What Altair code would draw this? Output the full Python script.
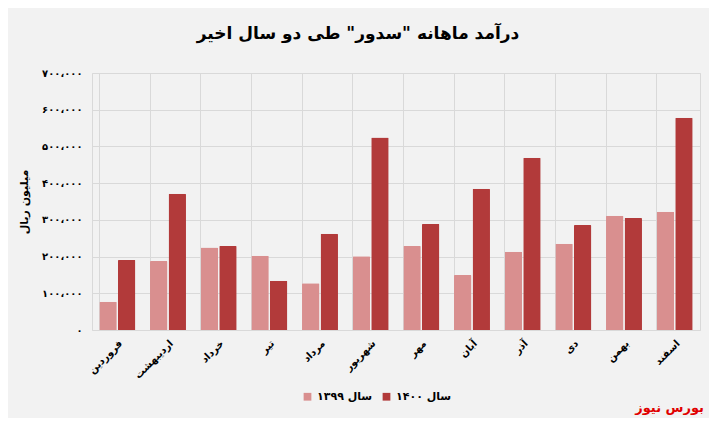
import altair as alt
import pandas as pd

months = ["فروردین", "اردیبهشت", "خرداد", "تیر", "مرداد", "شهریور",
          "مهر", "آبان", "آذر", "دی", "بهمن", "اسفند"]
series_names = ["سال ۱۳۹۹", "سال ۱۴۰۰"]
values_1399 = [77000, 188000, 225000, 202000, 127000, 201000,
               229000, 150000, 213000, 235000, 311000, 322000]
values_1400 = [191000, 371000, 229000, 134000, 262000, 524000,
               289000, 385000, 469000, 286000, 305000, 578000]
y_tick_values = [0, 100000, 200000, 300000, 400000, 500000, 600000, 700000]
y_tick_labels = ["۰", "۱۰۰،۰۰۰", "۲۰۰،۰۰۰", "۳۰۰،۰۰۰", "۴۰۰،۰۰۰",
                 "۵۰۰،۰۰۰", "۶۰۰،۰۰۰", "۷۰۰،۰۰۰"]
series_colors = ["#d98f8f", "#b23a3a"]
title_text = 'درآمد ماهانه "سدور" طی دو سال اخیر'
y_title = "میلیون ریال"
brand_text = "بورس نیوز"

rows = []
for i, m in enumerate(months):
    rows.append({"month": m, "series": series_names[0], "value": values_1399[i]})
    rows.append({"month": m, "series": series_names[1], "value": values_1400[i]})
df = pd.DataFrame(rows)

label_expr = ""
for v, lab in zip(y_tick_values, y_tick_labels):
    label_expr += f"datum.value == {v} ? '{lab}' : "
label_expr += "''"

FONT = "DejaVu Sans"

bars = alt.Chart(df).mark_bar(cornerRadiusTopLeft=1, cornerRadiusTopRight=1).encode(
    x=alt.X("month:N", sort=months, title=None,
            scale=alt.Scale(paddingInner=0.29, paddingOuter=0.145),
            axis=alt.Axis(labelAngle=-45, labelFont=FONT, labelFontWeight="bold",
                          labelFontSize=10, labelColor="#000000", ticks=False,
                          domain=False, grid=True, bandPosition=0,
                          gridColor="#d9d9d9", labelPadding=8)),
    xOffset=alt.XOffset("series:N", sort=series_names,
                        scale=alt.Scale(paddingInner=0.06)),
    y=alt.Y("value:Q", title=y_title,
            scale=alt.Scale(domain=[0, 700000]),
            axis=alt.Axis(values=y_tick_values, labelExpr=label_expr,
                          labelFont=FONT, labelFontWeight="bold", labelFontSize=10,
                          labelColor="#000000", ticks=False, domain=False,
                          gridColor="#d9d9d9", labelPadding=10,
                          titleFont=FONT, titleFontWeight="bold", titleFontSize=11,
                          titleColor="#000000", titlePadding=12)),
    color=alt.Color("series:N", sort=series_names,
                    scale=alt.Scale(domain=series_names, range=series_colors),
                    legend=alt.Legend(orient="none", direction="horizontal",
                                      legendX=210, legendY=318, title=None,
                                      symbolType="square", symbolSize=60,
                                      symbolStrokeWidth=0,
                                      labelFont=FONT, labelFontWeight="bold",
                                      labelFontSize=11, labelColor="#000000",
                                      columnPadding=8)),
)

brand = alt.Chart(pd.DataFrame({"t": [brand_text]})).mark_text(
    font=FONT, fontWeight="bold", fontSize=13, color="#e00000",
    align="right", baseline="middle"
).encode(text="t:N", x=alt.value(612), y=alt.value(335))

chart = alt.layer(bars, brand).properties(
    width=608, height=257,
    autosize=alt.AutoSizeParams(type="none"),
    padding={"left": 84, "top": 65, "right": 9, "bottom": 88},
    background="#f2f2f2",
    title=alt.TitleParams(title_text, font=FONT, fontWeight="bold", fontSize=17,
                          color="#000000", anchor="middle", dx=-38, offset=25),
).configure_view(stroke="#d9d9d9")

chart.save("out.html", embed_options={"renderer": "svg", "actions": False})
